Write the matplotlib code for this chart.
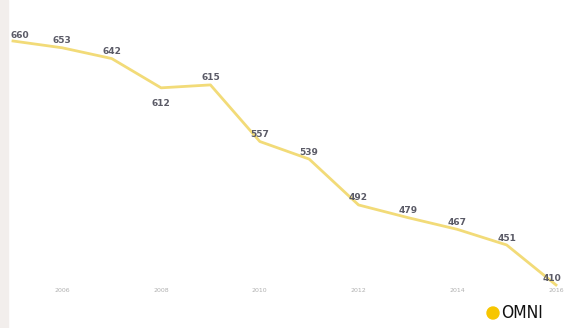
import matplotlib.pyplot as plt
from matplotlib.patches import Rectangle, Ellipse

years = [2005, 2006, 2007, 2008, 2009, 2010, 2011, 2012, 2013, 2014, 2015, 2016]
values = [660, 653, 642, 612, 615, 557, 539, 492, 479, 467, 451, 410]
tick_years = [2006, 2008, 2010, 2012, 2014, 2016]
# label placement: offset in points (dx, dy)
offsets = [(5, 4), (0, 5), (0, 5), (0, -11), (0, 5), (0, 5),
           (0, 5), (0, 5), (0, 5), (0, 5), (0, 5), (-3, 5)]

W, H = 567, 328
fig = plt.figure(figsize=(W / 100, H / 100), dpi=100)
fig.patch.set_facecolor('white')
fig.patches.append(Rectangle((0, 0), 8 / W, 1, transform=fig.transFigure,
                             color='#f2eeec', zorder=0))

ax = fig.add_axes([8 / W, 0, (W - 8) / W, 1])
ax.set_facecolor('none')
ax.plot(years, values, color='#f2db78', lw=2.0, solid_joinstyle='round', clip_on=False)
for x, v, (dx, dy) in zip(years, values, offsets):
    ax.annotate(str(v), (x, v), xytext=(dx, dy), textcoords='offset points',
                ha='center', va='center', fontsize=6.5, fontweight='bold',
                color='#5a5a66')

ax.set_xlim(2004.899, 2016.223)
ax.set_ylim(365.9, 702.0)
ax.set_xticks(tick_years)
ax.set_xticklabels([str(t) for t in tick_years])
ax.tick_params(axis='x', direction='in', length=0, pad=-29, labelsize=4.5,
               labelcolor='#b0b0b0')
ax.set_yticks([])
for s in ax.spines.values():
    s.set_visible(False)

fig.patches.append(Ellipse((493 / W, 1 - 313 / H), 12 / W, 12 / H,
                           transform=fig.transFigure, color='#f7c600'))
fig.text(501 / W, 1 - 313 / H, 'OMNI', fontsize=12.5, family='DejaVu Sans',
         fontstretch='condensed', color='#111111', va='center', ha='left')

fig.savefig('out.png', dpi=100)
